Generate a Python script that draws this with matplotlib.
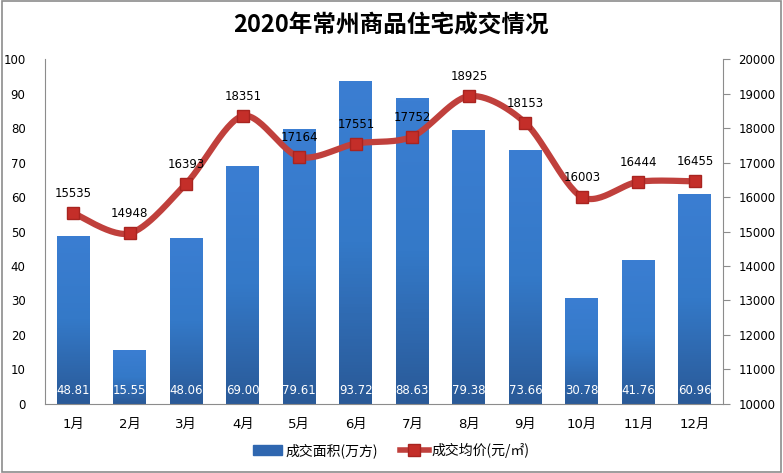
import numpy as np
import matplotlib
matplotlib.use("Agg")
import matplotlib.pyplot as plt
from matplotlib.lines import Line2D
from matplotlib.patches import Rectangle
from matplotlib.colors import LinearSegmentedColormap

plt.rcParams['font.family'] = ['DejaVu Sans', 'Noto Sans CJK SC']

months = ['1月', '2月', '3月', '4月', '5月', '6月', '7月', '8月', '9月', '10月', '11月', '12月']
area = [48.81, 15.55, 48.06, 69.00, 79.61, 93.72, 88.63, 79.38, 73.66, 30.78, 41.76, 60.96]
price = [15535, 14948, 16393, 18351, 17164, 17551, 17752, 18925, 18153, 16003, 16444, 16455]


def smooth(xs, ys, n=30):
    # catmull-rom style curve through the points, like excel's smoothed line
    xs = np.asarray(xs, float)
    ys = np.asarray(ys, float)
    px = np.concatenate([[xs[0]], xs, [xs[-1]]])
    py = np.concatenate([[ys[0]], ys, [ys[-1]]])
    ox, oy = [], []
    t = np.linspace(0, 1, n)
    for i in range(1, len(px) - 2):
        for p, out in ((px, ox), (py, oy)):
            p0, p1, p2, p3 = p[i - 1], p[i], p[i + 1], p[i + 2]
            m1 = (p2 - p0) / 2 * 0.9
            m2 = (p3 - p1) / 2 * 0.9
            h00 = 2 * t**3 - 3 * t**2 + 1
            h10 = t**3 - 2 * t**2 + t
            h01 = -2 * t**3 + 3 * t**2
            h11 = t**3 - t**2
            out.extend(h00 * p1 + h10 * m1 + h01 * p2 + h11 * m2)
    return np.array(ox), np.array(oy)


fig = plt.figure(figsize=(7.83, 4.73), dpi=100)
fig.patches.append(Rectangle((0.003, 0.003), 0.994, 0.994, transform=fig.transFigure,
                             fill=False, edgecolor='#8c8c8c', linewidth=1.2))

ax = fig.add_axes([0.0575, 0.146, 0.866, 0.729])
x = np.arange(len(months))
bars = ax.bar(x, area, width=0.58, color='#2f67b0', zorder=2)

cmap = LinearSegmentedColormap.from_list('bl', ['#2a5a98', '#3479c8', '#3b7ed2'])
grad = np.linspace(0, 1, 100).reshape(-1, 1)
for b in bars:
    b.set_facecolor('none')
    bx, bw, bh = b.get_x(), b.get_width(), b.get_height()
    im = ax.imshow(grad, cmap=cmap, aspect='auto', origin='lower',
                   extent=(bx, bx + bw, 0, bh), zorder=2)
    im.set_clip_path(b)

for xi, v in zip(x, area):
    ax.text(xi, 3.8, '%.2f' % v, ha='center', va='center', color='white', fontsize=8.5, zorder=5)

ax.set_xlim(-0.5, len(months) - 0.5)
ax.set_ylim(0, 100)
ax.set_yticks(range(0, 101, 10))
ax.set_xticks(x)
ax.set_xticklabels(months, fontsize=9.5)
ax.tick_params(axis='y', length=0, labelsize=8.5, pad=14)
ax.tick_params(axis='x', length=0, pad=10)
for s in ['top', 'right']:
    ax.spines[s].set_visible(False)
ax.spines['left'].set_color('#8c8c8c')
ax.spines['bottom'].set_color('#8c8c8c')

ax2 = ax.twinx()
ax2.set_ylim(10000, 20000)
ax2.set_yticks(range(10000, 20001, 1000))
ax2.tick_params(axis='y', labelsize=8.5, length=5, color='#8c8c8c', pad=6)
for s in ['top', 'left', 'bottom']:
    ax2.spines[s].set_visible(False)
ax2.spines['right'].set_color('#8c8c8c')

sx, sy = smooth(x, price)
ax2.plot(sx, sy, color='#c0403c', linewidth=4.5, zorder=3, solid_capstyle='round')
ax2.plot(x, price, linestyle='none', marker='s', markersize=9,
         markerfacecolor='#c42e29', markeredgecolor='#a82420', markeredgewidth=1, zorder=4)
for xi, v in zip(x, price):
    ax2.annotate(str(v), (xi, v), xytext=(0, 14), textcoords='offset points',
                 ha='center', va='center', fontsize=8.5, zorder=5)

fig.text(0.5, 0.945, '2020年常州商品住宅成交情况', ha='center', va='center',
         fontsize=17, fontweight='bold', family=['Noto Sans CJK SC'])

handles = [Rectangle((0, 0), 1, 1, color='#2f67b0'),
           Line2D([], [], color='#c0403c', linewidth=4, marker='s', markersize=8,
                  markerfacecolor='#c42e29', markeredgecolor='#a82420')]
fig.legend(handles, ['成交面积(万方)', '成交均价(元/㎡)'], loc='center',
           bbox_to_anchor=(0.5, 0.048), ncol=2, frameon=False,
           prop={'family': ['Noto Sans CJK SC', 'DejaVu Sans'], 'size': 10},
           handlelength=2.1, handletextpad=0.2, columnspacing=1.6)

fig.savefig('out.png', dpi=100)
